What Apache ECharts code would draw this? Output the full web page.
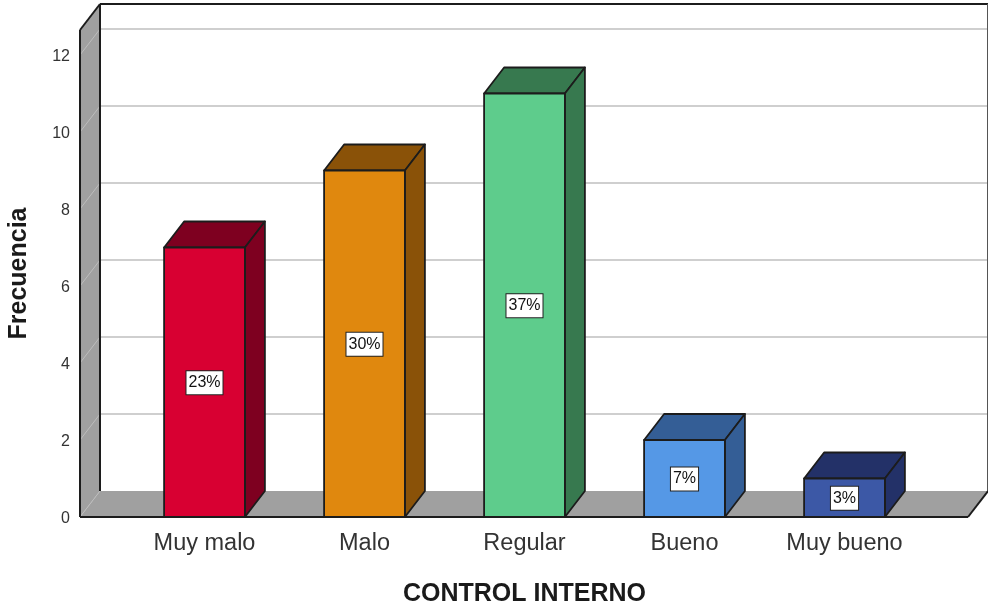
<!DOCTYPE html>
<html>
<head>
<meta charset="utf-8">
<style>html,body{margin:0;padding:0;background:#fff}#chart{width:988px;height:604px}</style>
<script src="https://cdn.jsdelivr.net/npm/echarts@6/dist/echarts.min.js"></script>
</head>
<body>
<div id="chart"></div>
<script>
const categories = ['Muy malo', 'Malo', 'Regular', 'Bueno', 'Muy bueno'];
const frequencies = [7, 9, 11, 2, 1];
const percentLabels = ['23%', '30%', '37%', '7%', '3%'];
const yTicks = [0, 2, 4, 6, 8, 10, 12];
const frontColors = ['#D80032', '#E0880E', '#5ECC8C', '#5598E6', '#3C58A6'];
const sideColors = ['#7E0020', '#8A5208', '#37794F', '#345E96', '#233168'];

const FONT = '"Liberation Sans", Arial, sans-serif';
const DX = 20, DY = -26;            // oblique depth of the 3D box
const LEFT_PAD = 44.5, RIGHT_PAD = 43.5;  // plot frame beyond the category band
const EDGE = '#1c1c1c', WALL = '#A0A0A0';

const chart = echarts.init(document.getElementById('chart'));

// Back wall, side wall, floor and grid lines of the 3D frame
function renderFrame(params, api) {
  const cs = params.coordSys;
  const x0 = cs.x - LEFT_PAD, x1 = cs.x + cs.width + RIGHT_PAD;
  const yTop = cs.y, yBase = cs.y + cs.height;
  const poly = (points, fill) => ({ type: 'polygon', shape: { points }, style: { fill, stroke: null } });
  const line = (a, b, stroke, lineWidth) => ({
    type: 'line', shape: { x1: a[0], y1: a[1], x2: b[0], y2: b[1] }, style: { stroke, lineWidth }
  });
  const children = [
    poly([[x0, yTop], [x0 + DX, yTop + DY], [x0 + DX, yBase + DY], [x0, yBase]], WALL),
    poly([[x0, yBase], [x0 + DX, yBase + DY], [x1 + DX, yBase + DY], [x1, yBase]], WALL)
  ];
  yTicks.filter(v => v > 0).forEach(v => {
    const y = api.coord([0, v])[1];
    children.push(line([x0 + DX, y + DY], [x1 + DX, y + DY], '#CFCFCF', 2));
    children.push(line([x0, y], [x0 + DX, y + DY], '#BDBDBD', 1));
  });
  children.push(
    line([x0, yBase], [x0 + DX, yBase + DY], '#BDBDBD', 1),
    line([x0 + DX, yTop + DY], [x0 + DX, yBase + DY], EDGE, 2),
    line([x0, yTop], [x0, yBase], EDGE, 2),
    line([x0, yTop], [x0 + DX, yTop + DY], EDGE, 2),
    line([x0 + DX, yTop + DY], [x1 + DX, yTop + DY], EDGE, 2),
    line([x1 + DX - 0.5, yTop + DY], [x1 + DX - 0.5, yBase + DY], '#555', 1),
    line([x0, yBase], [x1, yBase], EDGE, 2),
    line([x1, yBase], [x1 + DX, yBase + DY], EDGE, 2)
  );
  return { type: 'group', children };
}

// One oblique box per category with its percentage tag on the front face
function renderBar(params, api) {
  const i = api.value(0), v = api.value(1);
  const top = api.coord([i, v]), base = api.coord([i, 0]);
  const w = api.size([1, 0])[0] * 0.505;
  const l = top[0] - w / 2, r = top[0] + w / 2, t = top[1], b = base[1];
  const edge = { stroke: EDGE, lineWidth: 1.8, lineJoin: 'round' };
  const shape = (points, fill) => ({ type: 'polygon', shape: { points }, style: { fill, ...edge } });
  return {
    type: 'group',
    children: [
      shape([[l, t], [l + DX, t + DY], [r + DX, t + DY], [r, t]], sideColors[i]),
      shape([[r, t], [r + DX, t + DY], [r + DX, b + DY], [r, b]], sideColors[i]),
      shape([[l, t], [r, t], [r, b], [l, b]], frontColors[i]),
      {
        type: 'text',
        x: top[0], y: (t + b) / 2 + 0.5,
        style: {
          text: percentLabels[i], font: '16px ' + FONT, fill: '#111',
          align: 'center', verticalAlign: 'middle',
          backgroundColor: '#fff', borderColor: '#222', borderWidth: 1,
          padding: [4, 2, 3, 2]
        }
      }
    ]
  };
}

chart.setOption({
  animation: false,
  backgroundColor: '#fff',
  grid: { left: 124.5, top: 30, width: 800, height: 487, containLabel: false, outerBoundsMode: 'none' },
  xAxis: {
    type: 'category',
    data: categories,
    axisLine: { show: false },
    axisTick: { show: false },
    axisLabel: { color: '#333', fontFamily: FONT, fontSize: 23.5, margin: 15 },
    name: 'CONTROL INTERNO',
    nameLocation: 'middle',
    nameGap: 65,
    nameTextStyle: { color: '#1a1a1a', fontFamily: FONT, fontSize: 25, fontWeight: 'bold' }
  },
  yAxis: {
    type: 'value',
    min: 0,
    max: 12.65,
    interval: 2,
    offset: LEFT_PAD,
    axisLine: { show: false },
    axisTick: { show: false },
    splitLine: { show: false },
    axisLabel: {
      color: '#333', fontFamily: FONT, fontSize: 16, margin: 10,
      verticalAlign: 'top', lineHeight: 4, customValues: yTicks
    },
    name: 'Frecuencia',
    nameLocation: 'middle',
    nameGap: 48,
    nameRotate: 90,
    nameTextStyle: { color: '#1a1a1a', fontFamily: FONT, fontSize: 25, fontWeight: 'bold' }
  },
  series: [
    { type: 'custom', name: 'frame', silent: true, clip: false, z: 1, renderItem: renderFrame, data: [[0, 0]] },
    {
      type: 'custom', name: 'Frecuencia', clip: false, z: 2, renderItem: renderBar,
      encode: { x: 0, y: 1 },
      data: frequencies.map((v, i) => [i, v])
    }
  ]
});
</script>
</body>
</html>
